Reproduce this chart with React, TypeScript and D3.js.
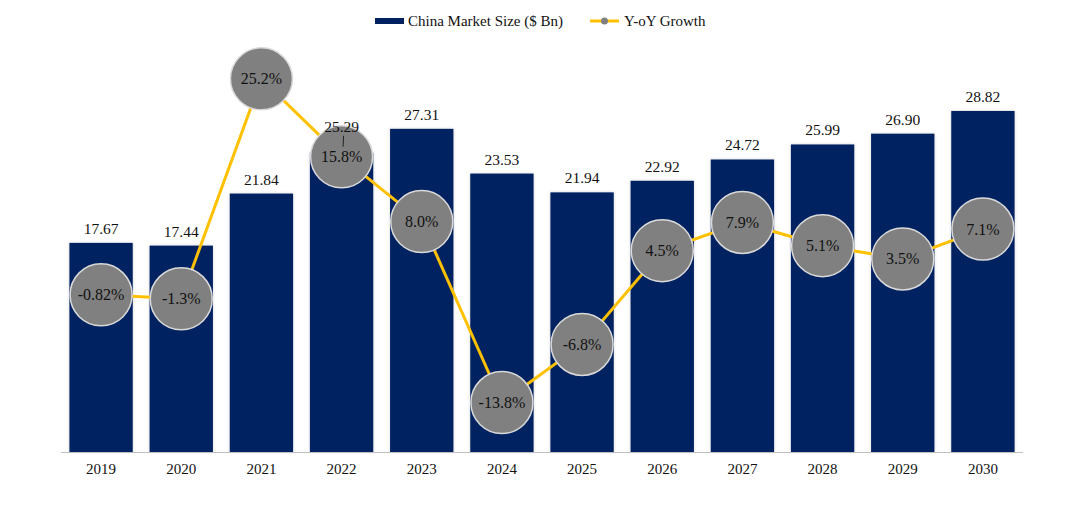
import React from "react";
import * as d3 from "d3";

const years = ["2019","2020","2021","2022","2023","2024","2025","2026","2027","2028","2029","2030"];
const marketSize = [17.67,17.44,21.84,25.29,27.31,23.53,21.94,22.92,24.72,25.99,26.90,28.82];
const growth = [-0.82,-1.3,25.2,15.8,8.0,-13.8,-6.8,4.5,7.9,5.1,3.5,7.1];
const growthLabels = ["-0.82%","-1.3%","25.2%","15.8%","8.0%","-13.8%","-6.8%","4.5%","7.9%","5.1%","3.5%","7.1%"];

const W = 1080, H = 520;
const FONT = "'Liberation Serif', 'Times New Roman', serif";
const NAVY = "#002060";
const GOLD = "#FFC000";
const MOVED = 3; // index of manually moved bar label (2022), with leader line

export default function App() {
  const x = d3.scaleBand<string>().domain(years).range([61, 1023]).paddingInner(0.21).paddingOuter(0.105);
  const y = d3.scaleLinear().domain([0, 30]).range([452, 97]);
  const y2 = d3.scaleLinear().domain([-20, 30]).range([454, 39]);
  const cx = (i: number) => (x(years[i]) as number) + x.bandwidth() / 2;
  const line = d3.line<number>().x((_, i) => cx(i)).y((g) => y2(g));
  const r = 31;
  const labelY = (i: number) => y(marketSize[i]) - 9 - (i === MOVED ? 12 : 0);

  return (
    <svg width={W} height={H} style={{ position: "absolute", left: 0, top: 0, background: "#fff" }} fontFamily={FONT}>
      <defs>
        <filter id="sh" x="-20%" y="-20%" width="140%" height="140%">
          <feDropShadow dx="0" dy="0" stdDeviation="1.5" floodColor="#000" floodOpacity="0.18" />
        </filter>
      </defs>
      {/* legend */}
      <rect x={375} y={18} width={29} height={6} fill={NAVY} />
      <text x={408} y={26} fontSize={15} fill="#111">China Market Size ($ Bn)</text>
      <line x1={590} x2={619} y1={21} y2={21} stroke={GOLD} strokeWidth={3} />
      <circle cx={604.5} cy={21} r={3.5} fill="#808080" />
      <text x={624} y={26} fontSize={15} fill="#111">Y-oY Growth</text>

      {/* bars */}
      {marketSize.map((v, i) => (
        <rect key={years[i]} x={x(years[i])} y={y(v)} width={x.bandwidth()} height={y(0) - y(v)} fill={NAVY} filter="url(#sh)" />
      ))}

      {/* axis */}
      <line x1={61} x2={1023} y1={452.5} y2={452.5} stroke="#bfbfbf" strokeWidth={1} />
      {years.map((yr, i) => (
        <text key={yr} x={cx(i)} y={474} fontSize={15} textAnchor="middle" fill="#111">{yr}</text>
      ))}

      {/* growth line */}
      <path d={line(growth) || ""} fill="none" stroke={GOLD} strokeWidth={3} />
      {growth.map((g, i) => (
        <g key={"g" + i}>
          <circle cx={cx(i)} cy={y2(g)} r={r} fill="#808080" stroke="#d9d9d9" strokeWidth={1.5} />
          <text x={cx(i)} y={y2(g) + 5.5} fontSize={16} textAnchor="middle" fill="#111">{growthLabels[i]}</text>
        </g>
      ))}

      {/* bar value labels */}
      {marketSize.map((v, i) => (
        <text key={"v" + i} x={cx(i)} y={labelY(i)} fontSize={15.5} textAnchor="middle" fill="#111">{v.toFixed(2)}</text>
      ))}
      {/* leader line for moved 2022 label */}
      <line x1={cx(MOVED) + 2} x2={cx(MOVED) + 1.5} y1={labelY(MOVED) + 4} y2={labelY(MOVED) + 15} stroke="#222" strokeWidth={1} />
    </svg>
  );
}
